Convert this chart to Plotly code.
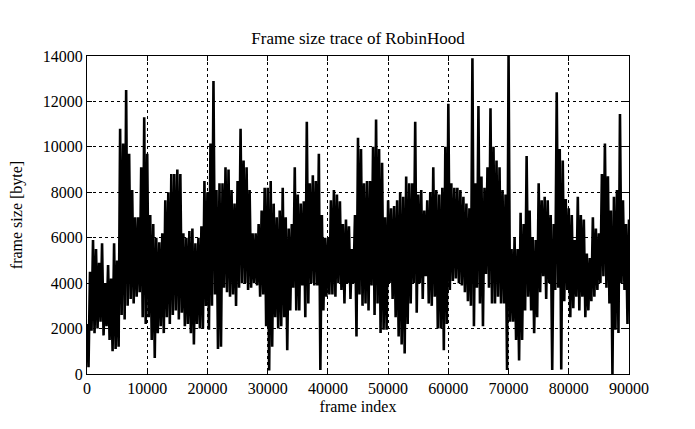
import numpy as np
import plotly.graph_objects as go

# Local maxima of the trace, one per 500-frame block (frames 0, 500, ..., 90000)
peak_sizes = [
    2200, 4500, 5900, 5500, 4900, 5750, 4000, 4800, 4200, 5750,
    5000, 10800, 10150, 12500, 9700, 8100, 6900, 6900, 9100, 11300,
    9700, 7000, 6600, 6000, 5800, 6200, 7650, 8000, 8800, 8800,
    9000, 8800, 6200, 6000, 6300, 6400, 5750, 6000, 6500, 8500,
    8000, 10150, 12900, 8100, 8400, 8400, 9100, 9000, 8100, 7500,
    8500, 10800, 9400, 9100, 8100, 6200, 6200, 6600, 7200, 8200,
    8200, 8500, 7500, 6900, 7200, 8200, 6900, 6400, 6600, 9100,
    7900, 7500, 7600, 11100, 8400, 8750, 8500, 9700, 7000, 6000,
    6000, 7650, 8100, 7900, 7600, 6600, 6800, 6500, 5500, 7000,
    10400, 9900, 8400, 8500, 8500, 10000, 11200, 9900, 9300, 6900,
    7650, 7300, 7400, 7650, 8000, 7800, 8700, 8400, 8400, 11100,
    7900, 8100, 7200, 7650, 8000, 9100, 8100, 7900, 8200, 10000,
    11900, 8400, 8200, 8200, 8100, 7800, 7500, 7300, 13900, 8400,
    11800, 8700, 8200, 9100, 11700, 10000, 9400, 9100, 8100, 7900,
    14000, 5500, 6000, 5500, 7100, 6600, 9600, 7200, 6000, 5900,
    8400, 7650, 7800, 7650, 7000, 6600, 12400, 9900, 9400, 7700,
    7300, 7000, 5900, 7800, 7000, 6800, 5300, 5100, 6900, 6400,
    6200, 8800, 10150, 8700, 7200, 7800, 8100, 11450, 7650, 6600,
    6800,
]

# Local minima of the trace, one per 500-frame block (frames 250, 750, ...)
trough_sizes = [
    300, 1900, 1800, 2000, 2300, 1700, 2100, 1500, 1000, 1100,
    1200, 2600, 2400, 3000, 3300, 3100, 3400, 3600, 2500, 2200,
    2500, 1500, 700, 1800, 2100, 1800, 2500, 2200, 2600, 2800,
    2400, 2700, 2100, 2200, 1800, 1300, 2200, 2000, 2000, 3000,
    1950, 3000, 3500, 1100, 1200, 3800, 3600, 3400, 3500, 3000,
    3800, 4000, 4000, 3700, 3800, 4000, 3900, 3400, 3500, 2100,
    150, 1200, 2500, 2000, 2100, 2500, 1050, 2800, 3800, 2800,
    2800, 3900, 2500, 3100, 4000, 3900, 3900, 175, 2800, 3400,
    3500, 3500, 3400, 4000, 3700, 3100, 4000, 3300, 4000, 1650,
    3500, 3000, 3100, 2800, 3900, 2600, 3100, 1800, 1950, 1950,
    4000, 3300, 2500, 1650, 1300, 900, 2200, 3100, 4000, 2700,
    4000, 3300, 4300, 3100, 3000, 3400, 2000, 2000, 1050, 2200,
    3700, 4100, 4200, 4000, 3900, 3600, 3200, 3000, 2100, 3800,
    3100, 2100, 4400, 3800, 3100, 3100, 3400, 3100, 3100, 175,
    2300, 2300, 1500, 600, 1500, 2800, 3400, 2800, 1800, 2500,
    3600, 4300, 3300, 4000, 175, 3700, 3800, 200, 3200, 3700,
    2500, 2900, 3400, 2800, 3400, 2500, 2800, 3200, 3400, 3700,
    4000, 4300, 3800, 3100, 0, 1950, 1800, 4000, 3700, 2200,
    3500,
]

x_ticks = [0, 10000, 20000, 30000, 40000, 50000, 60000, 70000, 80000, 90000]
y_ticks = [0, 2000, 4000, 6000, 8000, 10000, 12000, 14000]

block = 500
peak_frames = np.arange(len(peak_sizes)) * block
trough_frames = peak_frames + block // 2

frames = np.empty(2 * len(peak_sizes))
sizes = np.empty(2 * len(peak_sizes))
frames[0::2] = peak_frames
frames[1::2] = trough_frames
sizes[0::2] = peak_sizes
sizes[1::2] = trough_sizes

fig = go.Figure(
    go.Scatter(
        x=frames, y=sizes, mode="lines",
        line=dict(color="black", width=2.6),
        showlegend=False, hoverinfo="skip",
    )
)

axis_common = dict(
    showgrid=True, gridcolor="black", griddash="dot", gridwidth=1,
    showline=True, linecolor="black", linewidth=1, mirror="ticks",
    ticks="inside", ticklen=5, tickcolor="black", zeroline=False,
    tickformat="d", tickfont=dict(size=16), automargin=False,
)

fig.update_layout(
    width=695, height=429,
    margin=dict(l=79, r=74, t=48, b=63),
    paper_bgcolor="white", plot_bgcolor="white",
    font=dict(family="Liberation Serif", size=16, color="black"),
    title=dict(text="Frame size trace of RobinHood", x=0.5, xref="paper",
               y=1 - 30 / 429, yref="container", xanchor="center", yanchor="middle",
               font=dict(size=17)),
    xaxis=dict(range=[0, 90000], tickvals=x_ticks,
               title=dict(text="frame index", standoff=4, font=dict(size=16)),
               **axis_common),
    yaxis=dict(range=[0, 14000], tickvals=y_ticks,
               title=dict(text="frame size [byte]", standoff=17, font=dict(size=16)),
               **axis_common),
)

fig.write_html("out.html")
